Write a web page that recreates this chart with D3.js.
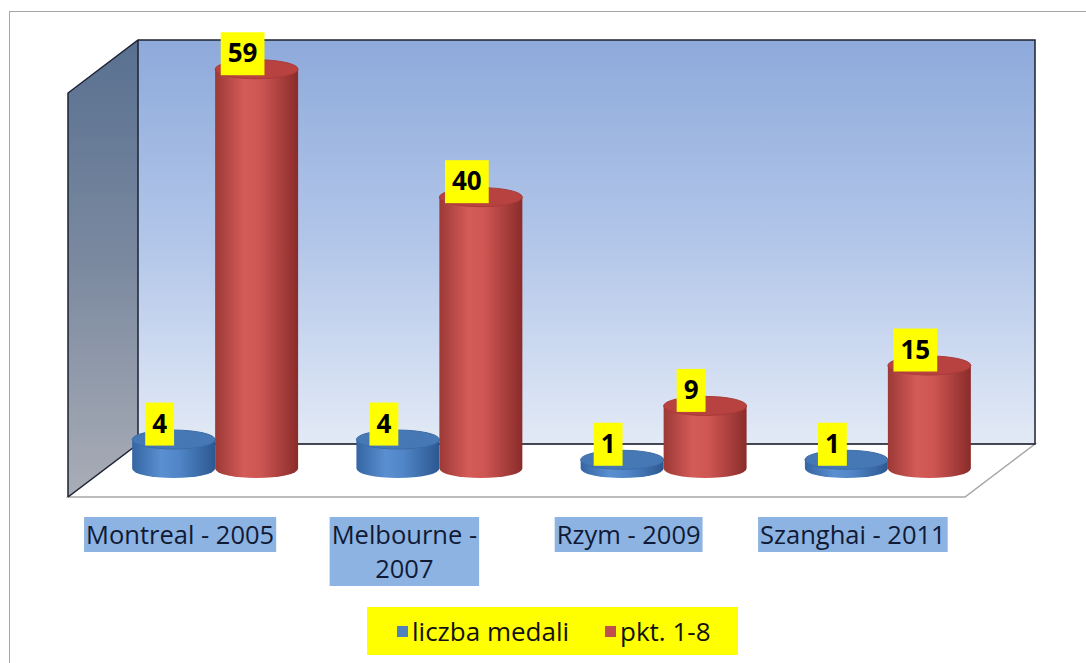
<!DOCTYPE html>
<html>
<head>
<meta charset="utf-8">
<script src="https://cdn.jsdelivr.net/npm/d3@7"></script>
<style>
body { margin: 0; background: #fff; }
svg { display: block; }
</style>
</head>
<body>
<svg id="chart"></svg>
<script>
var categories = ["Montreal - 2005", "Melbourne - 2007", "Rzym - 2009", "Szanghai - 2011"];
var seriesNames = ["liczba medali", "pkt. 1-8"];
var medale = [4, 4, 1, 1];
var punkty = [59, 40, 9, 15];
var seriesColors = ["#4f81bd", "#c0504d"];

var WIDTH = 1086, HEIGHT = 663;
var FONT = "'Open Sans', Lato, sans-serif";
var svg = d3.select("#chart").attr("width", WIDTH).attr("height", HEIGHT);
var defs = svg.append("defs");

// outer chart border (cropped right/bottom)
svg.append("rect").attr("x", 9.5).attr("y", 11.5).attr("width", 1200).attr("height", 800)
    .attr("fill", "#fff").attr("stroke", "#a6a6a6").attr("stroke-width", 1);

// 3d box geometry
var frontL = 68, frontR = 965, floorY = 497;
var dx = 70, dy = -53;
var wallH = 404;

var y = d3.scaleLinear().domain([0, 60]).range([0, wallH]);

function lg(id, stops, vertical) {
    var g = defs.append("linearGradient").attr("id", id)
        .attr("x1", 0).attr("y1", 0).attr("x2", vertical ? 0 : 1).attr("y2", vertical ? 1 : 0);
    stops.forEach(function(s) {
        g.append("stop").attr("offset", s[0]).attr("stop-color", s[1]);
    });
}
lg("wallBack", [[0, "#8eaadb"], [0.5, "#b2c6e9"], [1, "#e3eaf6"]], true);
lg("wallLeft", [[0, "#587090"], [0.5, "#7c8aa0"], [1, "#a9adb6"]], true);
lg("body0", [[0, "#3565a3"], [0.35, "#5a8fd0"], [0.55, "#5187c9"], [1, "#2c5891"]], false);
lg("body1", [[0, "#9c3936"], [0.35, "#d45b58"], [0.55, "#cd5552"], [1, "#8a2c2a"]], false);

var backY = floorY + dy, topY = backY - wallH;

// back wall
svg.append("rect").attr("x", frontL + dx).attr("y", topY).attr("width", frontR - frontL).attr("height", wallH)
    .attr("fill", "url(#wallBack)");
// left wall
svg.append("path")
    .attr("d", "M" + frontL + "," + (topY - dy) + "L" + (frontL + dx) + "," + topY +
        "L" + (frontL + dx) + "," + backY + "L" + frontL + "," + floorY + "Z")
    .attr("fill", "url(#wallLeft)");
// floor
svg.append("path")
    .attr("d", "M" + frontL + "," + floorY + "L" + (frontL + dx) + "," + backY +
        "L" + (frontR + dx) + "," + backY + "L" + frontR + "," + floorY + "Z")
    .attr("fill", "#fff").attr("stroke", "#a6a6a6").attr("stroke-width", 1.5);
// wall outlines
svg.append("path")
    .attr("d", "M" + frontL + "," + floorY + "L" + frontL + "," + (topY - dy) + "L" + (frontL + dx) + "," + topY +
        "L" + (frontR + dx) + "," + topY + "L" + (frontR + dx) + "," + backY + "L" + (frontL + dx) + "," + backY +
        "M" + (frontL + dx) + "," + topY + "L" + (frontL + dx) + "," + backY + "L" + frontL + "," + floorY)
    .attr("fill", "none").attr("stroke", "#1c2233").attr("stroke-width", 1.5);

// category bands on the mid-depth plane
var midL = frontL + dx / 2, midR = frontR + dx / 2, baseY = floorY + dy / 2 - 2;
var x0 = d3.scaleBand().domain(categories).range([midL, midR]).paddingInner(0.26).paddingOuter(0.13);
var x1 = d3.scaleBand().domain(seriesNames).range([0, x0.bandwidth()]);

var bars = [];
categories.forEach(function(c, i) {
    bars.push({cat: c, s: 0, v: medale[i]});
    bars.push({cat: c, s: 1, v: punkty[i]});
});

var rx = x1.bandwidth() / 2, ry = 9.5;
var gb = svg.append("g");
bars.forEach(function(d) {
    var cx = x0(d.cat) + x1(seriesNames[d.s]) + rx;
    var yt = baseY - y(d.v) - 2;
    d.cx = cx; d.yt = yt;
    gb.append("path")
        .attr("d", "M" + (cx - rx) + "," + yt + "L" + (cx - rx) + "," + baseY +
            "A" + rx + "," + ry + " 0 0 0 " + (cx + rx) + "," + baseY +
            "L" + (cx + rx) + "," + yt + "Z")
        .attr("fill", "url(#body" + d.s + ")");
    gb.append("ellipse").attr("cx", cx).attr("cy", yt).attr("rx", rx).attr("ry", ry)
        .attr("fill", d.s ? "#b8423f" : "#4678b6")
        .attr("stroke", d.s ? "#a83a37" : "#3d6ca6").attr("stroke-width", 1);
});

// data labels
var gl = svg.append("g");
bars.forEach(function(d) {
    var t = gl.append("text").attr("x", d.cx - 14).attr("y", d.yt - 7)
        .attr("text-anchor", "middle")
        .style("font-family", FONT).style("font-weight", "bold")
        .style("font-size", "26px").attr("fill", "#000").text(d.v);
    var w = t.node().getComputedTextLength();
    gl.insert("rect", "text").attr("x", d.cx - 14 - w / 2 - 7).attr("y", d.yt - 37)
        .attr("width", w + 14).attr("height", 43).attr("fill", "#ffff00");
});

// category labels
var gc = svg.append("g");
categories.forEach(function(c) {
    var cx = x0(c) + x0.bandwidth() / 2 - dx / 2;
    var words = c.split(" ");
    var t = gc.append("text").attr("text-anchor", "middle")
        .style("font-family", FONT).style("font-size", "25.5px")
        .attr("fill", "#101a35");
    var lines = [c];
    t.text(c);
    if (t.node().getComputedTextLength() > 194) {
        lines = [words.slice(0, -1).join(" "), words[words.length - 1]];
    }
    t.text(null);
    lines.forEach(function(l, k) {
        t.append("tspan").attr("x", cx).attr("y", 544 + k * 34).text(l);
    });
    var bb = t.node().getBBox();
    gc.insert("rect", "text").attr("x", bb.x - 2).attr("y", 517)
        .attr("width", bb.width + 4).attr("height", 35 + (lines.length - 1) * 34)
        .attr("fill", "#8db3e2");
});

// legend
var leg = svg.append("g");
leg.append("rect").attr("x", 367).attr("y", 607).attr("width", 371).attr("height", 48).attr("fill", "#ffff00");
var legX = [397, 605];
seriesNames.forEach(function(s, i) {
    leg.append("rect").attr("x", legX[i]).attr("y", 626).attr("width", 11).attr("height", 11).attr("fill", seriesColors[i]);
    leg.append("text").attr("x", legX[i] + 15).attr("y", 641)
        .style("font-family", FONT).style("font-size", "26px")
        .attr("fill", "#111").text(s);
});
</script>
</body>
</html>
